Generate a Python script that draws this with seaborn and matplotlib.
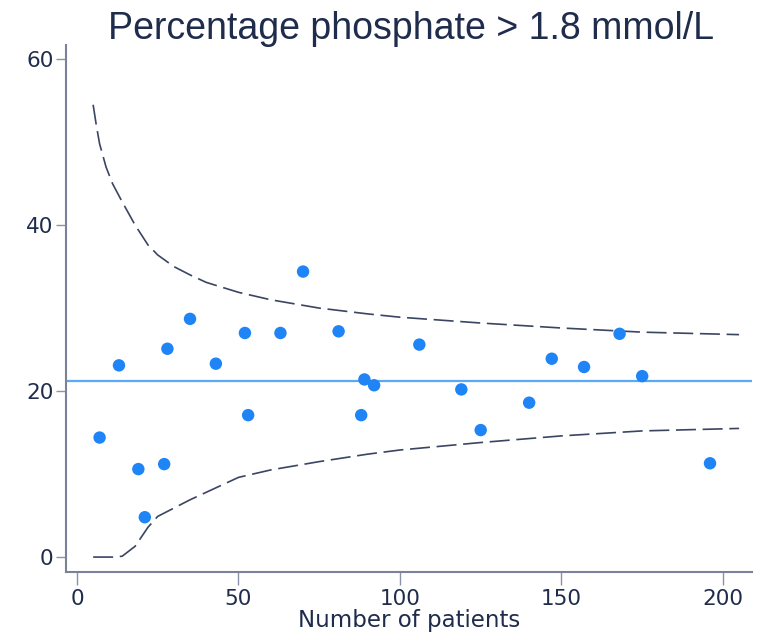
import matplotlib
matplotlib.use("Agg")
import matplotlib.pyplot as plt
import seaborn as sns
import pandas as pd

# Data
patients = [7, 13, 19, 21, 27, 28, 35, 43, 52, 53, 63, 70, 81, 88, 89, 92,
            106, 119, 125, 140, 147, 157, 168, 175, 196]
pct = [14.4, 23.1, 10.6, 4.8, 11.2, 25.1, 28.7, 23.3, 27.0, 17.1, 27.0, 34.4,
       27.2, 17.1, 21.4, 20.7, 25.6, 20.2, 15.3, 18.6, 23.9, 22.9, 26.9, 21.8, 11.3]
mean_pct = 21.2

limit_n = [5, 6, 7, 9, 11, 14, 18, 22, 25, 30, 35, 40, 50, 60, 75, 90, 100,
           125, 150, 175, 205]
upper = [54.5, 52.0, 49.8, 47.0, 45.0, 42.8, 40.0, 37.6, 36.4, 35.0, 34.0,
         33.1, 31.9, 31.0, 30.0, 29.3, 28.9, 28.2, 27.6, 27.1, 26.8]
lower = [0.0, 0.0, 0.0, 0.0, 0.0, 0.1, 1.3, 3.6, 4.9, 5.9, 6.9, 7.8, 9.6,
         10.5, 11.5, 12.4, 12.9, 13.8, 14.6, 15.2, 15.5]

pts = pd.DataFrame({"n": patients, "pct": pct})
lim = pd.DataFrame({"n": limit_n, "upper": upper, "lower": lower})

sns.set_style("white")
plt.rcParams["font.family"] = ["DejaVu Sans"]

navy = "#1f2c4c"
fig = plt.figure(figsize=(7.61, 6.34), dpi=100)
ax = fig.add_axes([66 / 761, 62 / 634, (752 - 66) / 761, (572 - 45) / 634])

dash = (0, (12, 4))
sns.lineplot(data=lim, x="n", y="upper", ax=ax, color="#3a4562", lw=1.2,
             linestyle=dash, estimator=None)
sns.lineplot(data=lim, x="n", y="lower", ax=ax, color="#3a4562", lw=1.2,
             linestyle=dash, estimator=None)
ax.axhline(mean_pct, color="#5aa8f8", lw=1.6, zorder=1)
sns.scatterplot(data=pts, x="n", y="pct", ax=ax, color="#1f84f5", s=80,
                edgecolor="none", zorder=3)

ax.set_xlim(-3.4, 209)
ax.set_ylim(-1.8, 61.7)
ax.set_xticks([0, 50, 100, 150, 200])
ax.set_yticks([0, 20, 40, 60])
ax.tick_params(axis="both", direction="out", width=1, bottom=True, left=True,
               color="#8a93a8", labelsize=15.5, labelcolor=navy)
ax.tick_params(axis="y", length=7, pad=2)
ax.tick_params(axis="x", length=9, pad=3)

for side in ["top", "right"]:
    ax.spines[side].set_visible(False)
for side in ["left", "bottom"]:
    ax.spines[side].set_color("#7a829a")
    ax.spines[side].set_linewidth(1.5)

ax.set_xlabel("Number of patients", fontsize=16.5, color=navy, labelpad=0)
ax.set_ylabel("")
fig.suptitle("Percentage phosphate > 1.8 mmol/L", fontsize=27, color=navy,
             x=0.54, y=0.982, va="top", family="Liberation Sans")

fig.savefig("out.png", dpi=100)
